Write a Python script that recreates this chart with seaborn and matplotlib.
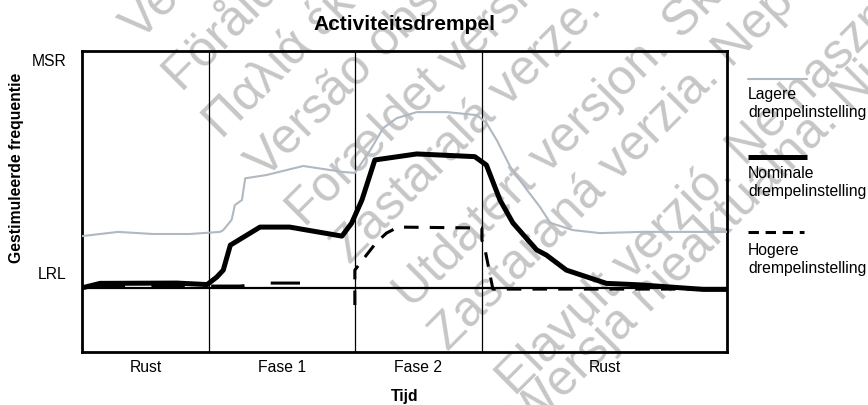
import matplotlib
matplotlib.use("Agg")
import matplotlib.pyplot as plt
from matplotlib.lines import Line2D
from matplotlib.transforms import ScaledTranslation
import pandas as pd
import seaborn as sns

# ---- data -------------------------------------------------------------
phase_edges = [0, 19.7, 42.3, 62.0, 100]
phase_labels = ["Rust", "Fase 1", "Fase 2", "Rust"]
LRL = 21.3
MSR = 100

# Lagere drempelinstelling
t_lager = [0, 5.6, 11.0, 16.7, 21.4, 21.9, 23.2, 23.7, 24.8, 25.3, 28.6, 34.3,
           40.5, 42.3, 44.7, 46.7, 48.8, 51.9, 56.6, 61.2, 62.7, 64.3, 66.4,
           69.0, 71.0, 72.6, 76.1, 80.3, 86.5, 100]
y_lager = [38.5, 39.9, 39.2, 39.2, 39.9, 40.5, 43.9, 48.8, 50.5, 57.7, 58.8, 61.8,
           59.8, 59.5, 67.1, 74.4, 77.7, 79.7, 79.7, 78.7, 76.1, 70.4, 61.5,
           53.8, 48.2, 42.9, 40.5, 39.5, 39.9, 39.9]

# Nominale drempelinstelling
t_nominaal = [0, 2.8, 14.7, 19.4, 20.9, 21.9, 23.0, 27.6, 32.2, 40.3, 41.8, 43.4,
              45.4, 51.9, 60.9, 62.7, 64.8, 66.8, 70.5, 72.0, 75.1, 81.3, 86.5,
              96.3, 100]
y_nominaal = [21.3, 22.8, 22.9, 22.4, 24.9, 27.2, 35.5, 41.5, 41.5, 38.5, 42.8, 50.5,
              63.8, 65.8, 64.9, 62.1, 50.5, 42.9, 33.9, 32.2, 27.2, 22.8, 22.3,
              20.8, 20.8]

# Hogere drempelinstelling (two pieces)
t_hoger_a = [0, 24.5, 29.0, 33.8]
y_hoger_a = [21.9, 21.9, 22.9, 22.9]
t_hoger_b = [42.3, 42.3, 44.1, 45.6, 47.2, 49.0, 62.0, 62.0, 62.5, 63.7, 100]
y_hoger_b = [15.6, 27.2, 32.2, 36.3, 39.5, 41.5, 41.2, 37.2, 33.9, 20.9, 20.9]

# document stamp lines (text, baseline start in pixels)
stamp_text = [
    "Verouderde versie. Niet gebruiken.",
    "Föråldrad version. Använd ej.",
    "Παλιά έκδοση. Μην τη χρησιμοποιείτε.",
    "Versão obsoleta. Não utilize.",
    "Forældet version. Må ikke anvendes.",
    "Zastaralá verze. Nepoužívat.",
    "Utdatert versjon. Skal ikke brukes.",
    "Zastaraná verzia. Nepoužívať.",
    "Elavult verzió. Ne használja!",
    "Wersja nieaktualna. Nie używać.",
]
stamp_x = [140, 182, 222, 265, 305, 350, 412, 448, 515, 530]
stamp_y = [42, 93, 140, 180, 228, 265, 310, 352, 397, 433]

# ---- style ------------------------------------------------------------
sns.set_theme(style="white")
plt.rcParams["font.family"] = ["Liberation Sans", "DejaVu Sans"]
plt.rcParams["lines.scale_dashes"] = False
GRAY = "#b0b8c2"
STAMP = "#c6c6c6"
FS = 11.3

W, H = 868, 405
fx = lambda x: x / W
fy = lambda y: 1 - y / H

fig = plt.figure(figsize=(W / 100, H / 100), dpi=100)
ax = fig.add_axes([fx(82), fy(352), fx(727) - fx(82), fy(51) - fy(352)])
ax.patch.set_facecolor("none")

for txt, sx, sy in zip(stamp_text, stamp_x, stamp_y):
    fig.text(fx(sx), fy(sy), txt, rotation=45, rotation_mode="anchor",
             ha="left", va="baseline", fontsize=36, color=STAMP, zorder=-1)

# phase boundaries and LRL reference
for edge in phase_edges[1:-1]:
    ax.axvline(edge, color="black", lw=0.9, zorder=1)
ax.axhline(LRL, color="black", lw=1.6, zorder=2)

# curves
df_lager = pd.DataFrame({"t": t_lager, "y": y_lager})
sns.lineplot(data=df_lager, x="t", y="y", sort=False, estimator=None,
             color=GRAY, lw=1.5, ax=ax, zorder=3)

df_hoger = pd.DataFrame({
    "t": t_hoger_a + t_hoger_b,
    "y": y_hoger_a + y_hoger_b,
    "deel": [0] * len(t_hoger_a) + [1] * len(t_hoger_b),
})
n_before = len(ax.lines)
sns.lineplot(data=df_hoger, x="t", y="y", units="deel", estimator=None, sort=False,
             color="black", lw=2.2, ax=ax, zorder=4)
for line in ax.lines[n_before:]:
    line.set_solid_capstyle("butt")
    line.set_dash_capstyle("butt")
    if min(line.get_xdata()) < 1:
        line.set_linestyle((36, (24, 19)))
    else:
        line.set_linestyle((0, (10.5, 8)))

df_nom = pd.DataFrame({"t": t_nominaal, "y": y_nominaal})
sns.lineplot(data=df_nom, x="t", y="y", sort=False, estimator=None,
             color="black", lw=3.6, ax=ax, zorder=5)

# axes
ax.set_xlim(phase_edges[0], phase_edges[-1])
ax.set_ylim(0, MSR)
for s in ax.spines.values():
    s.set_color("black")
    s.set_linewidth(2.0)
    s.set_visible(True)

centers = [(a + b) / 2 for a, b in zip(phase_edges[:-1], phase_edges[1:])]
ax.set_xticks(centers, phase_labels)
ax.set_yticks([LRL, MSR], ["LRL", "MSR"])
ax.tick_params(axis="both", length=0, labelsize=FS, colors="black")
ax.tick_params(axis="x", pad=6)
ax.tick_params(axis="y", pad=11.5)
ylabs = ax.get_yticklabels()
ylabs[0].set_transform(ylabs[0].get_transform() + ScaledTranslation(0, 0.15, fig.dpi_scale_trans))
ylabs[1].set_transform(ylabs[1].get_transform() + ScaledTranslation(0, -0.09, fig.dpi_scale_trans))

ax.set_xlabel("Tijd", fontsize=FS, fontweight="bold", color="black")
ax.xaxis.set_label_coords(0.5, (352 - 389) / 301)
ax.set_ylabel("Gestimuleerde frequentie", fontsize=FS, fontweight="bold", color="black")
ax.yaxis.set_label_coords((24 - 82) / 645, (352 - 168) / 301)

fig.text(fx(404), fy(25), "Activiteitsdrempel", ha="center", va="center",
         fontsize=15, fontweight="bold", color="black")

# legend, drawn beside the plot
fig.add_artist(Line2D([fx(748), fx(807)], [fy(79), fy(79)], color=GRAY, lw=1.5,
                      transform=fig.transFigure))
fig.add_artist(Line2D([fx(748), fx(807)], [fy(157), fy(157)], color="black", lw=3.6,
                      solid_capstyle="butt", transform=fig.transFigure))
fig.add_artist(Line2D([fx(748), fx(804)], [fy(232), fy(232)], color="black", lw=2.2,
                      linestyle=(0, (7.5, 4.8)), dash_capstyle="butt",
                      transform=fig.transFigure))
legend_text = [("Lagere", 94), ("drempelinstelling", 112),
               ("Nominale", 173), ("drempelinstelling", 191),
               ("Hogere", 250), ("drempelinstelling", 268)]
for txt, ypx in legend_text:
    fig.text(fx(748), fy(ypx), txt, ha="left", va="center", fontsize=FS, color="black")

fig.savefig("out.png", dpi=100)
